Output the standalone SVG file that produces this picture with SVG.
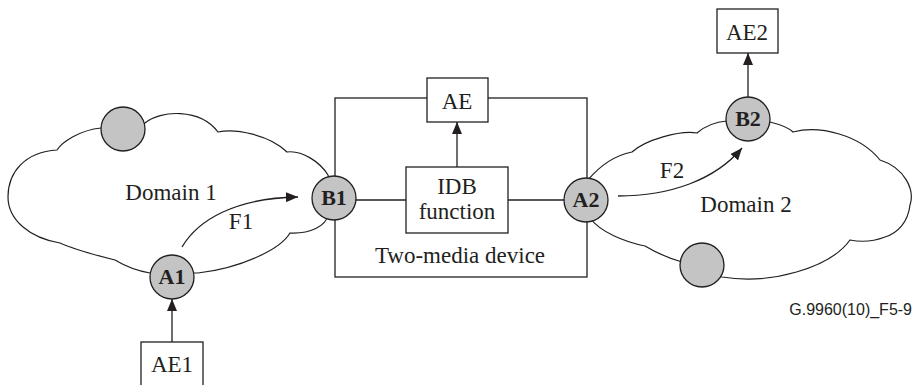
<svg xmlns="http://www.w3.org/2000/svg" width="914" height="385" viewBox="0 0 914 385">
<style>
.ln{fill:none;stroke:#231f20;stroke-width:1.3}
.box{fill:#fff;stroke:#231f20;stroke-width:1.3}
.node{fill:#c4c4c4;stroke:#231f20;stroke-width:1.3}
.cloud{fill:#fff;stroke:#231f20;stroke-width:1.2}
.t{font-family:"Liberation Serif","Times New Roman",serif;font-size:23px;fill:#231f20;text-anchor:middle}
.b{font-family:"Liberation Serif","Times New Roman",serif;font-size:22px;font-weight:bold;fill:#231f20;text-anchor:middle}
.s{font-family:"Liberation Sans",Arial,sans-serif;font-size:16px;fill:#231f20;text-anchor:end}
</style>
<defs>
<marker id="ah" markerUnits="userSpaceOnUse" markerWidth="12" markerHeight="10" refX="12" refY="5" orient="auto">
<path d="M0,0 L12,5 L0,10 z" fill="#231f20"/>
</marker>
</defs>
<rect width="914" height="385" fill="#fff"/>
<g id="domain1">
<path class="cloud" d="M57,150 C62,142 80,130 101,128 L145,123 C160,110 200,108 218,132 C235,128 270,135 287,152 C302,150 320,162 328,175 L334,197 L328,215 C326,226 310,234 290,233 C280,250 240,268 198,273 L150,273 C138,271 125,266 115,260 C95,255 75,250 60,243 C30,238 8,220 8,197 C8,172 25,152 57,150 Z"/>
<text class="t" x="171" y="200">Domain 1</text>
</g>
<g id="domain2">
<path class="cloud" d="M588,180 C598,168 612,156 632,152 C645,140 680,130 697,133 C705,126 715,122 727,121 L770,122 C778,124 788,127 793,132 C820,125 860,135 880,160 C905,168 915,190 910,205 C908,222 898,233 885,237 C872,242 860,242 850,240 C830,268 770,285 722,277 L682,262 C668,258 655,252 645,246 C625,242 600,232 590,218 Z"/>
<text class="t" x="746" y="212">Domain 2</text>
</g>
<g id="device">
<rect class="ln" x="335" y="98" width="252" height="179"/>
<text class="t" x="460" y="263">Two-media device</text>
</g>
<g id="connectors">
<line class="ln" x1="356" y1="200" x2="406" y2="200"/>
<line class="ln" x1="508" y1="200" x2="564" y2="200"/>
<line class="ln" x1="457" y1="167" x2="457" y2="122" marker-end="url(#ah)"/>
<line class="ln" x1="172" y1="342" x2="172" y2="299" marker-end="url(#ah)"/>
<line class="ln" x1="748" y1="97" x2="748" y2="53" marker-end="url(#ah)"/>
<path class="ln" d="M182,247 C198,220 235,198 298,197" marker-end="url(#ah)"/>
<path class="ln" d="M618,196 C670,196 715,180 742,148" marker-end="url(#ah)"/>
<text class="t" x="241" y="229">F1</text>
<text class="t" x="672" y="178">F2</text>
</g>
<g id="AE">
<rect class="box" x="427" y="78" width="61" height="44"/>
<text class="t" x="457" y="109">AE</text>
</g>
<g id="IDB">
<rect class="box" x="406" y="167" width="102" height="66"/>
<text class="t" x="457" y="194">IDB</text>
<text class="t" x="457" y="219">function</text>
</g>
<g id="AE1">
<rect class="box" x="141" y="342" width="62" height="60"/>
<text class="t" x="172" y="372">AE1</text>
</g>
<g id="AE2">
<rect class="box" x="717" y="9" width="61" height="44"/>
<text class="t" x="747" y="40">AE2</text>
</g>
<g id="C1"><circle class="node" cx="123" cy="129" r="22"/></g>
<g id="C2"><circle class="node" cx="702" cy="265" r="22"/></g>
<g id="A1">
<circle class="node" cx="172" cy="277" r="22"/>
<text class="b" x="172" y="284">A1</text>
</g>
<g id="B1">
<circle class="node" cx="334" cy="198" r="22"/>
<text class="b" x="334" y="205">B1</text>
</g>
<g id="A2">
<circle class="node" cx="586" cy="200" r="22"/>
<text class="b" x="586" y="207">A2</text>
</g>
<g id="B2">
<circle class="node" cx="748" cy="119" r="22"/>
<text class="b" x="748" y="126">B2</text>
</g>
<text class="s" x="912" y="315">G.9960(10)_F5-9</text>
</svg>
